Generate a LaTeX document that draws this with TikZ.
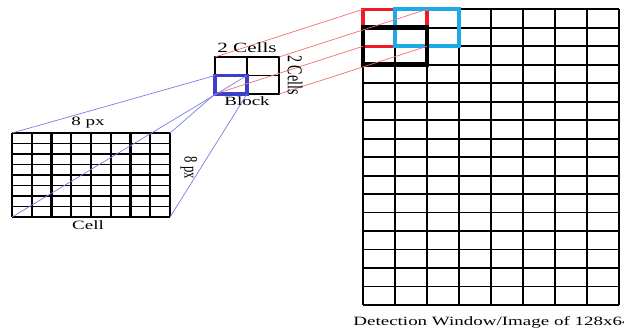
\documentclass[tikz,border=0pt]{standalone}
\usepackage{fontspec}
\setmainfont{Liberation Serif}
\usetikzlibrary{positioning,calc}
\definecolor{BoxRed}{HTML}{EE1C25}
\definecolor{BoxCyan}{HTML}{1EAAE6}
\definecolor{BoxBlue}{HTML}{3B40C8}
\definecolor{LinkBlue}{HTML}{7A7EE6}
\definecolor{LinkRed}{HTML}{F07070}

\begin{document}
\begin{tikzpicture}[x=0.025cm,y=-0.025cm,lbl/.style={font=\fontsize{9}{10}\selectfont,xscale=1.5,inner sep=0pt},area/.style={inner sep=0pt,outer sep=0pt,anchor=north west},vline/.style={line width=1.6pt},hline/.style={line width=1.3pt},blk/.style={area,minimum width=1.6cm,minimum height=0.924cm},linkblue/.style={draw=LinkBlue,line width=0.5pt},linkred/.style={draw=LinkRed,line width=0.5pt}]
\useasboundingbox (0,0) rectangle (624,330);
\node[area,minimum width=6.4cm,minimum height=7.39cm] (win) at (363,9.3){};
\foreach \i in {0,...,8}{\draw[vline] (363+\i*32,9.3) -- (363+\i*32,305);}
\foreach \j in {0,...,16}{\draw[hline] (363,9.3+\j*18.48) -- (619,9.3+\j*18.48);}
\node[blk,draw=BoxRed,line width=2.5pt] (redblk) at (363,9.3){};
\node[blk,draw=BoxCyan,line width=2.9pt] (cyanblk) at (395,9.3){};
\node[blk,draw=black,line width=3.3pt] (blackblk) at (363,27.8){};
\node[area,minimum width=1.6cm,minimum height=0.925cm,draw,line width=1.2pt] (block) at (215,57){};
\draw[line width=1.2pt] (block.north) -- (block.south);
\draw[line width=1.2pt] (block.west) -- (block.east);
\node[area,minimum width=0.8cm,minimum height=0.4625cm,draw=BoxBlue,line width=2.3pt] (bluecell) at (215,75.5){};
\node[area,minimum width=3.95cm,minimum height=2.1cm] (cell) at (12,133){};
\foreach \i in {0,...,8}{\draw[vline] (12+\i*19.75,133) -- (12+\i*19.75,217);}
\foreach \j in {0,...,8}{\draw[hline] (12,133+\j*10.5) -- (170,133+\j*10.5);}
\foreach \a in {north west,north east,south west,south east}{\draw[linkred] (block.\a) -- (redblk.\a);}
\draw[linkblue] (cell.north west) -- (bluecell.north west);
\draw[linkblue] (cell.north east) -- (bluecell.south west);
\draw[linkblue] (cell.south west) -- (bluecell.north east);
\draw[linkblue] (cell.south east) -- (bluecell.south east);
\node[lbl,font=\fontsize{10}{11}\selectfont,above=3pt of block] (cellsh){2 Cells};
\node[lbl,font=\fontsize{10}{11}\selectfont,rotate=-90] (cellsv) at (295,75){2 Cells};
\node[lbl,below=2pt of block] (blocklbl){Block};
\node[lbl] (pxh) at (88,123){8 px};
\node[lbl] (celllbl) at (88,225){Cell};
\node[lbl,rotate=-90] (pxv) at (189,168){8 px};
\node[lbl,anchor=west] (winlbl) at (353,322){Detection Window/Image of 128x64};
\end{tikzpicture}
\end{document}
